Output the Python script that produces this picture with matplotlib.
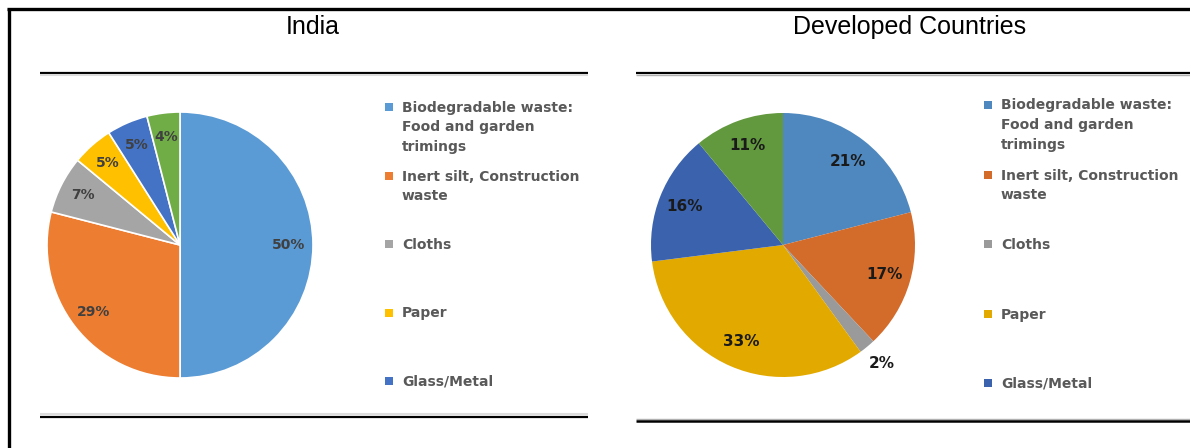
import matplotlib
matplotlib.use("Agg")
import matplotlib.pyplot as plt
from matplotlib.lines import Line2D
from matplotlib.patches import Rectangle
import numpy as np

W, H = 1190, 448

# ---- data ----
categories = ["Biodegradable waste:\nFood and garden\ntrimings",
              "Inert silt, Construction\nwaste",
              "Cloths", "Paper", "Glass/Metal", "Others"]
india_values = [50, 29, 7, 5, 5, 4]
developed_values = [21, 17, 2, 33, 16, 11]
india_colors = ["#5B9BD5", "#ED7D31", "#A5A5A5", "#FFC000", "#4472C4", "#70AD47"]
developed_colors = ["#4F88BE", "#D36B2B", "#9A9A9A", "#E2A900", "#3B62AD", "#62993E"]
titles = ["India", "Developed Countries"]
legend_count = 5

fig = plt.figure(figsize=(W / 100, H / 100), dpi=100)
fig.patch.set_facecolor("white")


def px_axes(x0, y0, x1, y1):
    return fig.add_axes([x0 / W, 1 - y1 / H, (x1 - x0) / W, (y1 - y0) / H])


def hline(x0, x1, y, lw, color):
    fig.add_artist(Line2D([x0 / W, x1 / W], [1 - y / H, 1 - y / H],
                          lw=lw, color=color, transform=fig.transFigure,
                          solid_capstyle="butt"))


def vline(x, y0, y1, lw, color):
    fig.add_artist(Line2D([x / W, x / W], [1 - y0 / H, 1 - y1 / H],
                          lw=lw, color=color, transform=fig.transFigure,
                          solid_capstyle="butt"))


# outer frame
hline(7, W, 9, 2.4, "black")
vline(8.5, 8, H, 2.4, "black")

# panel rules
hline(40, 588, 72.5, 1.6, "black")
hline(40, 588, 75.5, 1.5, "#dcdcdc")
hline(40, 588, 413.5, 1.5, "#dcdcdc")
hline(40, 588, 417, 1.6, "black")
hline(636, W, 73, 1.6, "black")
hline(636, W, 75, 1.0, "#b0b0b0")
hline(636, W, 418.5, 1.0, "#b0b0b0")
hline(636, W, 420.5, 1.8, "black")

# titles
fig.text(313 / W, 1 - 27 / H, titles[0], ha="center", va="center",
         fontsize=18, family="Liberation Sans", color="black")
fig.text(910 / W, 1 - 27 / H, titles[1], ha="center", va="center",
         fontsize=18, family="Liberation Sans", color="black")


def draw_pie(cx, cy, r, values, colors, edge, lab_color, lab_size, dist, outside):
    ax = px_axes(cx - r, cy - r, cx + r, cy + r)
    wedges, _ = ax.pie(values, colors=colors, startangle=90, counterclock=False,
                       radius=1.0,
                       wedgeprops=dict(edgecolor=edge, linewidth=1.2 if edge == "white" else 0))
    ax.set_xlim(-1, 1)
    ax.set_ylim(-1, 1)
    ax.set_aspect("equal")
    ax.axis("off")
    for w, v in zip(wedges, values):
        ang = np.deg2rad((w.theta1 + w.theta2) / 2)
        d = outside.get(v, dist)
        ax.text(d * np.cos(ang), d * np.sin(ang), f"{v}%", ha="center", va="center",
                fontsize=lab_size, fontweight="heavy", color=lab_color,
                family="DejaVu Sans", clip_on=False)
    return ax


draw_pie(180, 245, 133, india_values, india_colors, "white", "#404040", 10, 0.82, {})
draw_pie(783, 245, 132, developed_values, developed_colors, "none", "#1a1a1a", 11, 0.8, {2: 1.17})


def draw_legend(x_mark, x_text, ys, colors):
    for lab, col, y in zip(categories[:legend_count], colors, ys):
        fig.add_artist(Rectangle(((x_mark - 4) / W, 1 - (y + 4) / H), 8 / W, 8 / H,
                                 transform=fig.transFigure, facecolor=col, edgecolor="none"))
        fig.text(x_text / W, 1 - (y - 6.5) / H, lab, ha="left", va="top",
                 fontsize=10, fontweight="bold", color="#595959",
                 family="DejaVu Sans", linespacing=1.53)


draw_legend(389, 402, [107, 176, 244, 313, 381], india_colors)
draw_legend(988, 1001, [105, 175, 244, 314, 383], developed_colors)

fig.savefig("out.png", dpi=100, facecolor="white")
